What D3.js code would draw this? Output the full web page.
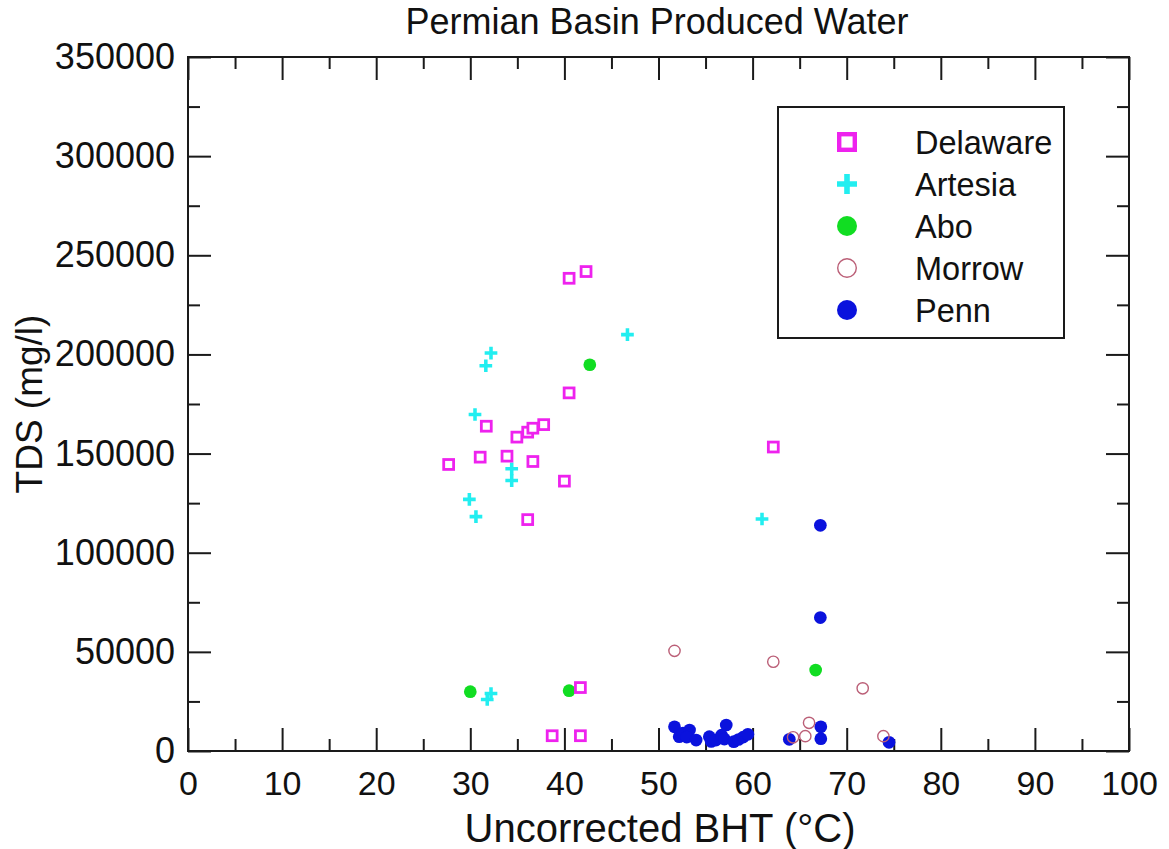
<!DOCTYPE html>
<html>
<head>
<meta charset="utf-8">
<script src="https://cdn.jsdelivr.net/npm/d3@7"></script>
<style>
  body { margin: 0; background: #fff; }
  svg { display: block; font-family: "Liberation Sans", Arial, Helvetica, sans-serif; }
</style>
</head>
<body>
<svg id="chart"></svg>
<script>
// ==================================================
// data: [BHT degC, TDS mg/l]

const delaware = [
    [40.5, 238400], [42.3, 241800], [40.5, 180600], [31.7, 163800],
    [34.95, 158300], [36.1, 160800], [36.65, 162800], [37.8, 164600],
    [27.7, 144500], [31.05, 148200], [33.9, 148700], [36.65, 146000],
    [40.0, 136100], [36.1, 116700], [62.2, 153300], [41.7, 32000],
    [38.7, 7700], [41.7, 7700]
];
const artesia = [
    [46.7, 210000], [32.2, 200700], [31.65, 194300], [30.5, 169700],
    [34.4, 142300], [34.4, 136400], [29.9, 126900], [30.6, 118200],
    [61.0, 117000], [31.8, 26000], [32.2, 29000]
];
const abo = [[42.7, 194800], [30.0, 29900], [40.5, 30400], [66.7, 40800]];
const morrow = [
    [51.7, 50500], [62.2, 45000], [71.7, 31600], [66.0, 14200],
    [65.6, 7500], [64.3, 6900], [73.9, 7500]
];
const penn = [
    [67.2, 113800], [67.2, 67300], [67.25, 12200], [67.25, 6200],
    [63.9, 5900], [74.5, 4400],
    [51.7, 12200], [52.2, 7200], [52.6, 9000], [53.3, 10600], [53.0, 7000],
    [54.0, 5500], [55.4, 7200], [55.6, 4800], [56.1, 5500], [56.7, 8000],
    [57.2, 13100], [57.0, 6000], [58.0, 4700], [58.5, 5800], [59.0, 7000],
    [59.5, 8400]
];

const seriesNames = ["Delaware", "Artesia", "Abo", "Morrow", "Penn"];
const xMajor = d3.range(0, 101, 10);
const xMinor = d3.range(5, 100, 10);
const yMajor = d3.range(0, 350001, 50000);
const yMinor = d3.range(25000, 350000, 50000);

// ==================================================

const width = 1169, height = 849;
const margin = {top: 57, right: 40, bottom: 98, left: 188};
const iw = width - margin.left - margin.right;
const ih = height - margin.top - margin.bottom;

const svg = d3.select('#chart').attr('width', width).attr('height', height);
const g = svg.append('g').attr('transform', `translate(${margin.left},${margin.top})`);

const x = d3.scaleLinear().domain([0, 100]).range([0, iw]);
const y = d3.scaleLinear().domain([0, 350000]).range([ih, 0]);

const ink = '#1a1a1a';

function tickAxis(axis, vals, len, labels) {
    return axis.tickValues(vals).tickSizeInner(-len).tickSizeOuter(0)
        .tickFormat(labels ? d3.format('d') : '');
}

function styleAxis(sel) {
    sel.select('.domain').remove();
    sel.selectAll('line').attr('stroke', ink).attr('stroke-width', 2);
    sel.selectAll('text').attr('fill', '#111');
}

// bottom / top
g.append('g').attr('transform', `translate(0,${ih})`)
    .call(tickAxis(d3.axisBottom(x), xMajor, 23, true).tickPadding(20))
    .call(styleAxis)
    .selectAll('text').attr('font-size', 34);
g.append('g').attr('transform', `translate(0,${ih})`)
    .call(tickAxis(d3.axisBottom(x), xMinor, 12, false)).call(styleAxis);
g.append('g').call(tickAxis(d3.axisTop(x), xMajor, 23, false)).call(styleAxis);
g.append('g').call(tickAxis(d3.axisTop(x), xMinor, 12, false)).call(styleAxis);

// left / right
g.append('g')
    .call(tickAxis(d3.axisLeft(y), yMajor, 23, true).tickPadding(13))
    .call(styleAxis)
    .selectAll('text').attr('font-size', 36);
g.append('g').call(tickAxis(d3.axisLeft(y), yMinor, 12, false)).call(styleAxis);
g.append('g').attr('transform', `translate(${iw},0)`)
    .call(tickAxis(d3.axisRight(y), yMajor, 23, false)).call(styleAxis);
g.append('g').attr('transform', `translate(${iw},0)`)
    .call(tickAxis(d3.axisRight(y), yMinor, 12, false)).call(styleAxis);

g.append('rect')
    .attr('width', iw).attr('height', ih)
    .attr('fill', 'none').attr('stroke', ink).attr('stroke-width', 2);

// ==================================================
// markers

const colors = {
    Delaware: '#ee22ee',
    Artesia: '#22eef0',
    Abo: '#11dd22',
    Morrow: '#bb5f77',
    Penn: '#0a12dd'
};

function marker(sel, name, s) {
    // s = outer size in px
    if (name === 'Delaware') {
        const sw = s * 0.22;
        sel.append('rect')
            .attr('x', -(s - sw) / 2).attr('y', -(s - sw) / 2)
            .attr('width', s - sw).attr('height', s - sw)
            .attr('fill', '#fff').attr('stroke', colors[name]).attr('stroke-width', sw);
    } else if (name === 'Artesia') {
        const h = s / 2;
        sel.append('path')
            .attr('d', `M${-h},0H${h}M0,${-h}V${h}`)
            .attr('stroke', colors[name]).attr('stroke-width', s * 0.28);
    } else if (name === 'Morrow') {
        sel.append('circle').attr('r', s / 2 - 0.7)
            .attr('fill', 'none').attr('stroke', colors[name]).attr('stroke-width', 1.4);
    } else {
        sel.append('circle').attr('r', s / 2).attr('fill', colors[name]);
    }
}

const drawOrder = [["Penn", penn], ["Abo", abo], ["Morrow", morrow], ["Artesia", artesia], ["Delaware", delaware]];

drawOrder.forEach(([name, pts]) => {
    g.append('g').attr('class', 'series-' + name)
        .selectAll('g').data(pts).join('g')
        .attr('transform', d => `translate(${x(d[0])},${y(d[1])})`)
        .each(function () { marker(d3.select(this), name, 12.7); });
});

// ==================================================
// legend

const lg = svg.append('g').attr('transform', 'translate(778,107)');
lg.append('rect').attr('width', 286).attr('height', 231)
    .attr('fill', '#fff').attr('stroke', ink).attr('stroke-width', 2);
const rows = lg.selectAll('g.row').data(seriesNames).join('g')
    .attr('class', 'row')
    .attr('transform', (d, i) => `translate(69,${35 + i * 42})`);
rows.each(function (d) { marker(d3.select(this), d, 20); });
rows.append('text')
    .attr('x', 68).attr('dy', '0.36em')
    .attr('font-size', 32.5).attr('fill', '#111')
    .text(d => d);

// ==================================================
// titles

svg.append('text')
    .attr('x', 657).attr('y', 34)
    .attr('text-anchor', 'middle').attr('font-size', 36).attr('fill', '#111')
    .text('Permian Basin Produced Water');

svg.append('text')
    .attr('x', 660).attr('y', 842)
    .attr('text-anchor', 'middle').attr('font-size', 40).attr('fill', '#111')
    .text('Uncorrected BHT (°C)');

svg.append('text')
    .attr('transform', `translate(42,${margin.top + ih / 2}) rotate(-90)`)
    .attr('text-anchor', 'middle').attr('font-size', 37).attr('fill', '#111')
    .text('TDS (mg/l)');
</script>
</body>
</html>
